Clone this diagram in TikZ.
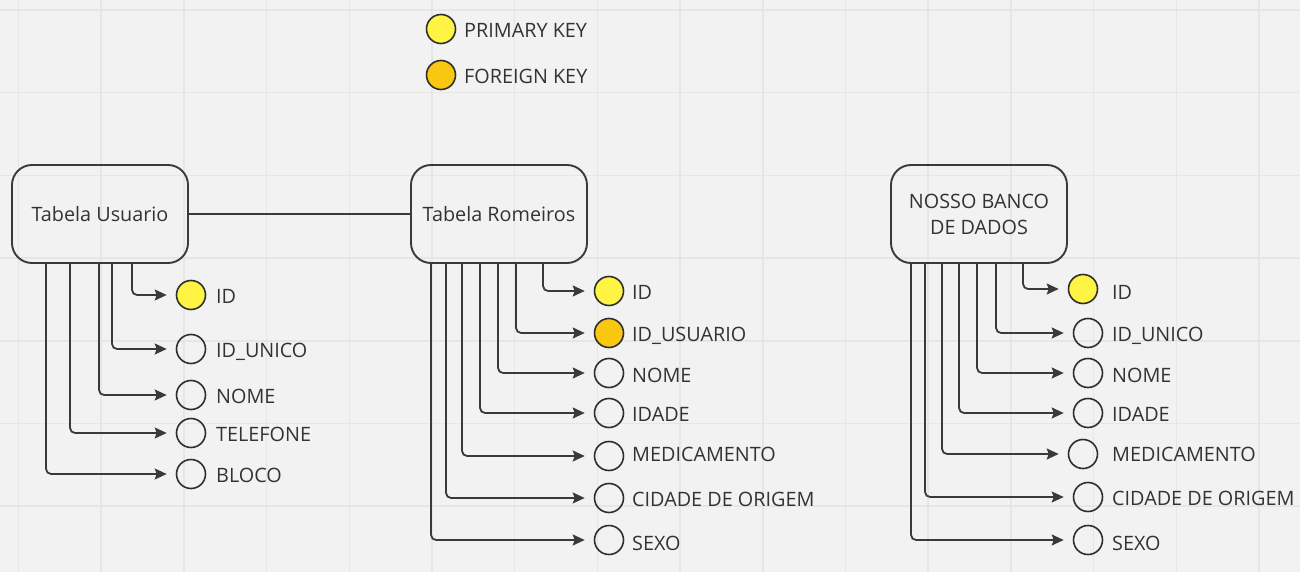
\documentclass[tikz,border=0pt]{standalone}
\usepackage{fontspec}
\setmainfont{Open Sans}
\usetikzlibrary{positioning, arrows.meta}
\definecolor{bgcol}{HTML}{F2F2F2}
\definecolor{gridcol}{HTML}{E6E6E6}
\definecolor{linecol}{HTML}{3A3A3A}
\definecolor{textcol}{HTML}{333333}
\definecolor{pkcol}{HTML}{FFF443}
\definecolor{fkcol}{HTML}{FAC710}
\tikzset{
    tablebox/.style={draw=linecol, line width=1.9pt, rounded corners=20pt, minimum width=176pt, minimum height=98pt, align=center, text=textcol, font=\fontsize{19.8}{26}\selectfont},
    keycircle/.style={draw=linecol!80!black, circle, minimum size=29pt, inner sep=0pt, line width=1.6pt},
    pk/.style={keycircle, fill=pkcol},
    fk/.style={keycircle, fill=fkcol},
    fieldlabel/.style={anchor=west, inner sep=0pt, text=textcol, font=\fontsize{19.8}{26}\selectfont, text height=14pt, text depth=0pt},
    branch/.style={draw=linecol, line width=1.8pt, rounded corners=5pt, shorten >=9pt, -{Stealth[length=12pt, width=11pt, inset=2pt]}},
    link/.style={draw=linecol, line width=1.8pt}
}

\begin{document}
\begin{tikzpicture}[x=1pt, y=-1pt]
	\useasboundingbox (0,0) rectangle (1300,572);
	% background and grid
	\fill[bgcol] (0,0) rectangle (1300,572);
	\foreach \i in {0,...,15} \draw[gridcol, line width=1.5pt] ({18.5+82.7*\i},0) -- ++(0,572);
	\foreach \j in {0,...,6} \draw[gridcol, line width=1.5pt] (0,{10+82.7*\j}) -- ++(1300,0);
	% legend
	\node(legendPK)[pk] at (441,29) {};
	\node(legendPKtext)[fieldlabel] at (464,30.5) {PRIMARY KEY};
	\node(legendFK)[fk] at (441,75) {};
	\node(legendFKtext)[fieldlabel] at (464,76.5) {FOREIGN KEY};
	% tables
	\node(Usuario)[tablebox] at (100,214) {Tabela Usuario};
	\node(Romeiros)[tablebox] at (499,214) {Tabela Romeiros};
	\node(Banco)[tablebox] at (979,214) {NOSSO BANCO\\DE DADOS};
	\draw[link](Usuario.east)--(Romeiros.west);
	% Tabela Usuario
	\node(uID)[pk] at (191,295) {};
	\node(uUnico)[keycircle] at (191,349) {};
	\node(uNome)[keycircle] at (191,395) {};
	\node(uTelefone)[keycircle] at (191,433) {};
	\node(uBloco)[keycircle] at (191,474) {};
	\node(uIDtext)[fieldlabel] at (216,296) {ID};
	\node(uUnicotext)[fieldlabel] at (216,350) {ID\_UNICO};
	\node(uNometext)[fieldlabel] at (216,396) {NOME};
	\node(uTelefonetext)[fieldlabel] at (216,434) {TELEFONE};
	\node(uBlocotext)[fieldlabel] at (216,475) {BLOCO};
	\draw[branch]([xshift=121pt]Usuario.south west)|-(uID.west);
	\draw[branch]([xshift=101pt]Usuario.south west)|-(uUnico.west);
	\draw[branch]([xshift=88pt]Usuario.south west)|-(uNome.west);
	\draw[branch]([xshift=59pt]Usuario.south west)|-(uTelefone.west);
	\draw[branch]([xshift=35pt]Usuario.south west)|-(uBloco.west);
	% Tabela Romeiros
	\node(rID)[pk] at (609,291) {};
	\node(rUsuario)[fk] at (609,333) {};
	\node(rNome)[keycircle] at (609,373) {};
	\node(rIdade)[keycircle] at (609,413) {};
	\node(rMedicamento)[keycircle] at (609,456) {};
	\node(rCidade)[keycircle] at (609,498) {};
	\node(rSexo)[keycircle] at (609,540) {};
	\node(rIDtext)[fieldlabel] at (632,292) {ID};
	\node(rUsuariotext)[fieldlabel] at (632,334) {ID\_USUARIO};
	\node(rNometext)[fieldlabel] at (632,375) {NOME};
	\node(rIdadetext)[fieldlabel] at (632,414) {IDADE};
	\node(rMedicamentotext)[fieldlabel] at (632,454) {MEDICAMENTO};
	\node(rCidadetext)[fieldlabel] at (632,499) {CIDADE DE ORIGEM};
	\node(rSexotext)[fieldlabel] at (632,543) {SEXO};
	\draw[branch]([xshift=133pt]Romeiros.south west)|-(rID.west);
	\draw[branch]([xshift=106pt]Romeiros.south west)|-(rUsuario.west);
	\draw[branch]([xshift=88pt]Romeiros.south west)|-(rNome.west);
	\draw[branch]([xshift=70pt]Romeiros.south west)|-(rIdade.west);
	\draw[branch]([xshift=52pt]Romeiros.south west)|-(rMedicamento.west);
	\draw[branch]([xshift=36pt]Romeiros.south west)|-(rCidade.west);
	\draw[branch]([xshift=21pt]Romeiros.south west)|-(rSexo.west);
	% Nosso banco de dados
	\node(bID)[pk] at (1083,289) {};
	\node(bUnico)[keycircle] at (1088,333) {};
	\node(bNome)[keycircle] at (1088,373) {};
	\node(bIdade)[keycircle] at (1088,413) {};
	\node(bMedicamento)[keycircle] at (1083,454) {};
	\node(bCidade)[keycircle] at (1088,497) {};
	\node(bSexo)[keycircle] at (1088,540) {};
	\node(bIDtext)[fieldlabel] at (1112,292) {ID};
	\node(bUnicotext)[fieldlabel] at (1112,334) {ID\_UNICO};
	\node(bNometext)[fieldlabel] at (1112,375) {NOME};
	\node(bIdadetext)[fieldlabel] at (1112,414) {IDADE};
	\node(bMedicamentotext)[fieldlabel] at (1112,454) {MEDICAMENTO};
	\node(bCidadetext)[fieldlabel] at (1112,498) {CIDADE DE ORIGEM};
	\node(bSexotext)[fieldlabel] at (1112,543) {SEXO};
	\draw[branch]([xshift=133pt]Banco.south west)|-(bID.west);
	\draw[branch]([xshift=106pt]Banco.south west)|-(bUnico.west);
	\draw[branch]([xshift=87pt]Banco.south west)|-(bNome.west);
	\draw[branch]([xshift=69pt]Banco.south west)|-(bIdade.west);
	\draw[branch]([xshift=52pt]Banco.south west)|-(bMedicamento.west);
	\draw[branch]([xshift=35pt]Banco.south west)|-(bCidade.west);
	\draw[branch]([xshift=21pt]Banco.south west)|-(bSexo.west);
\end{tikzpicture}
\end{document}
